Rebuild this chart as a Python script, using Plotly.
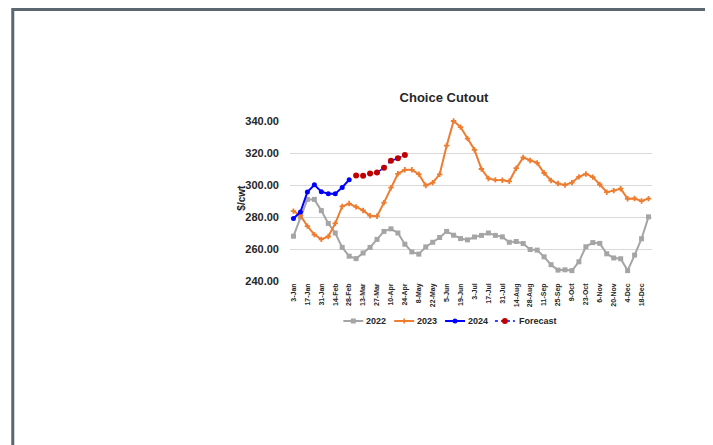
import plotly.graph_objects as go

weeks = ["3-Jan", "10-Jan", "17-Jan", "24-Jan", "31-Jan", "7-Feb", "14-Feb", "21-Feb",
         "28-Feb", "6-Mar", "13-Mar", "20-Mar", "27-Mar", "3-Apr", "10-Apr", "17-Apr",
         "24-Apr", "1-May", "8-May", "15-May", "22-May", "29-May", "5-Jun", "12-Jun",
         "19-Jun", "26-Jun", "3-Jul", "10-Jul", "17-Jul", "24-Jul", "31-Jul", "7-Aug",
         "14-Aug", "21-Aug", "28-Aug", "4-Sep", "11-Sep", "18-Sep", "25-Sep", "2-Oct",
         "9-Oct", "16-Oct", "23-Oct", "30-Oct", "6-Nov", "13-Nov", "20-Nov", "27-Nov",
         "4-Dec", "11-Dec", "18-Dec", "25-Dec"]
tick_labels = weeks[::2]

y2022 = [268, 280, 291, 291, 284, 276, 270, 261, 255.5, 254, 257.5, 261, 266, 271,
         272.6, 270, 263, 258.2, 256.8, 261.3, 264.2, 267.2, 271, 268.6, 266.5, 265.7,
         267.5, 268.5, 270, 268.5, 267.6, 264.2, 264.7, 263.4, 259.7, 259.3, 255.1, 250.2,
         246.8, 247, 246.5, 252, 261.4, 264, 263.5, 257, 254.4, 253.9, 246.5, 256.2,
         266.4, 280.1]
y2023 = [283.7, 281, 274.3, 269, 266, 267.8, 276, 286.6, 288.4, 286.3, 284.1, 280.8,
         280.5, 289, 298.3, 307, 309.5, 309.5, 306.8, 299.7, 301.5, 306.7, 324.6, 340,
         336.2, 329, 322, 310, 304.1, 303.2, 303, 302.3, 310.5, 317.2, 315.3, 313.8,
         307.5, 302.8, 300.9, 300, 301.5, 305.1, 306.9, 304.9, 300.3, 295.5, 296.5,
         297.7, 291.4, 291.6, 290, 291.5]
y2024 = [279, 283.1, 295.6, 300.1, 295.8, 294.6, 294.6, 298.5, 303.3]
forecast_weeks = weeks[9:17]
y_forecast = [306, 305.8, 307.2, 307.8, 310.8, 315.1, 316.7, 318.7]

series_names = ["2022", "2023", "2024", "Forecast"]
line_colors = ["#A5A5A5", "#ED7D31", "#0000FF", "#0000FF"]
marker_colors = ["#A5A5A5", "#ED7D31", "#0000FF", "#C00000"]

# page offset (browser body margin) and screen-space layout targets
OFF = 8
W, H = 713 - OFF, 445 - OFF
L, R, T, B = 289.5, 652.5, 121, 281
PW, PH = R - L, B - T


def px_x(x):
    return (x - L) / PW


def px_y(y):
    return (B - y) / PH


FONT = "Liberation Sans, Arial, sans-serif"
TXT = "#262626"

fig = go.Figure()
fig.add_trace(go.Scatter(x=weeks, y=y2022, name=series_names[0], mode="lines+markers",
                         line=dict(color=line_colors[0], width=2),
                         marker=dict(symbol="square", size=5, color=marker_colors[0]),
                         cliponaxis=False))
fig.add_trace(go.Scatter(x=weeks, y=y2023, name=series_names[1], mode="lines+markers",
                         line=dict(color=line_colors[1], width=2),
                         marker=dict(symbol="cross", size=4.5, color=marker_colors[1]),
                         cliponaxis=False))
fig.add_trace(go.Scatter(x=weeks[:len(y2024)], y=y2024, name=series_names[2], mode="lines+markers",
                         line=dict(color=line_colors[2], width=2),
                         marker=dict(symbol="circle", size=5, color=marker_colors[2]),
                         cliponaxis=False))
fig.add_trace(go.Scatter(x=forecast_weeks, y=y_forecast, name=series_names[3], mode="lines+markers",
                         line=dict(color=line_colors[3], width=1.5, dash="dot"),
                         marker=dict(symbol="circle", size=6, color=marker_colors[3]),
                         cliponaxis=False))

# custom compact legend (screen px positions)
leg_y = 321
leg_items = [(343, 363, 364), (394, 414, 415), (445, 465, 466), (495, 515, 517)]
shapes = [dict(type="rect", xref="paper", yref="paper",
               x0=px_x(11.5), x1=px_x(709.5), y0=px_y(470), y1=px_y(9.5),
               line=dict(color="#5B6670", width=3), fillcolor="rgba(0,0,0,0)", layer="below")]
annotations = [dict(text="$/cwt", x=px_x(240), y=px_y(198), xref="paper", yref="paper",
                    textangle=-90, showarrow=False, xanchor="center", yanchor="middle",
                    font=dict(size=10, weight="bold", color=TXT))]
for k, (x0, x1, xt) in enumerate(leg_items):
    dash = "dot" if k == 3 else "solid"
    lw = 1.5 if k == 3 else 2
    shapes.append(dict(type="line", xref="paper", yref="paper",
                       x0=px_x(x0), x1=px_x(x1), y0=px_y(leg_y), y1=px_y(leg_y),
                       line=dict(color=line_colors[k], width=lw, dash=dash)))
    cx = (x0 + x1) / 2
    r = 3 if k == 3 else 2.5
    if k == 0:
        shapes.append(dict(type="rect", xref="paper", yref="paper",
                           x0=px_x(cx - r), x1=px_x(cx + r), y0=px_y(leg_y + r), y1=px_y(leg_y - r),
                           line=dict(width=0), fillcolor=marker_colors[k]))
    elif k == 1:
        for dx, dy in [(r, 0.8), (0.8, r)]:
            shapes.append(dict(type="rect", xref="paper", yref="paper",
                               x0=px_x(cx - dx), x1=px_x(cx + dx),
                               y0=px_y(leg_y + dy), y1=px_y(leg_y - dy),
                               line=dict(width=0), fillcolor=marker_colors[k]))
    else:
        shapes.append(dict(type="circle", xref="paper", yref="paper",
                           x0=px_x(cx - r), x1=px_x(cx + r), y0=px_y(leg_y + r), y1=px_y(leg_y - r),
                           line=dict(width=0), fillcolor=marker_colors[k]))
    annotations.append(dict(text=series_names[k], x=px_x(xt), y=px_y(leg_y), xref="paper",
                            yref="paper", xanchor="left", yanchor="middle", showarrow=False,
                            font=dict(size=9, weight="bold", color=TXT)))

fig.update_layout(
    width=W, height=H,
    margin=dict(l=L - OFF, r=W - (R - OFF), t=T - OFF, b=H - (B - OFF), autoexpand=False),
    paper_bgcolor="white", plot_bgcolor="white",
    font=dict(family=FONT, color=TXT),
    showlegend=False,
    title=dict(text="Choice Cutout", x=(444 - OFF) / W, xref="container", xanchor="center",
               y=1 - (97 - OFF) / H, yref="container", yanchor="middle",
               font=dict(size=13, weight="bold", color=TXT, family=FONT)),
    xaxis=dict(type="category", categoryorder="array", categoryarray=weeks,
               range=[-0.5, len(weeks) - 0.5], tickmode="array", tickvals=tick_labels,
               ticktext=tick_labels, tickangle=-90, showgrid=False, showline=False,
               zeroline=False, ticks="", tickfont=dict(size=7, weight="bold", color=TXT)),
    yaxis=dict(range=[240, 340], dtick=20, tick0=240, tickformat=".2f",
               showgrid=True, gridcolor="#D9D9D9", gridwidth=1, zeroline=False,
               showline=False, ticks="", ticklabelstandoff=10,
               tickfont=dict(size=11, weight="bold", color=TXT)),
    annotations=annotations,
    shapes=shapes,
)

fig.write_html("out.html")
